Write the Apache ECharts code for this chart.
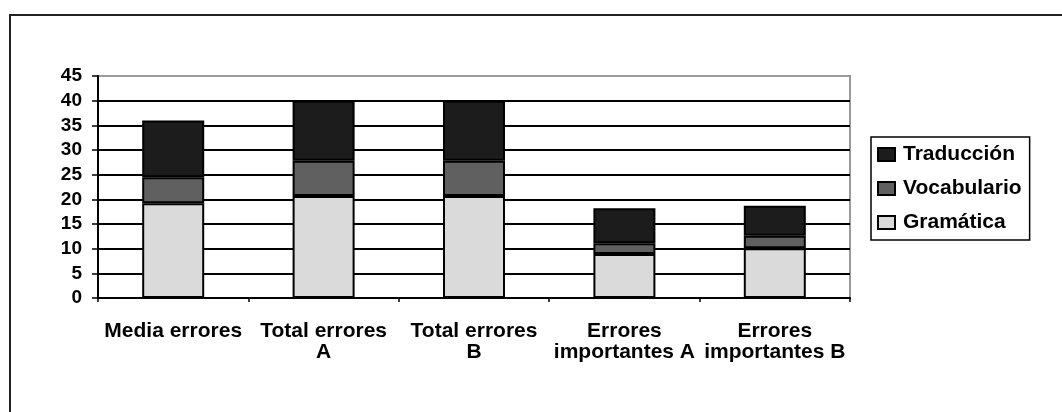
<!DOCTYPE html>
<html>
<head>
<meta charset="utf-8">
<script src="https://cdn.jsdelivr.net/npm/echarts@6/dist/echarts.min.js"></script>
<style>
  html, body { margin: 0; padding: 0; background: #fff; }
  #chart { width: 1062px; height: 412px; }
</style>
</head>
<body>
<div id="chart"></div>
<script>
// Error counts by type, stacked per category
const categories = [
  'Media errores',
  'Total errores\nA',
  'Total errores\nB',
  'Errores\nimportantes A',
  'Errores\nimportantes B'
];
const gramatica   = [19.2, 20.7, 20.7, 8.9, 10.1];
const vocabulario = [5.3, 7.1, 7.1, 2.2, 2.5];
const traduccion  = [11.5, 12.2, 12.2, 7.1, 6.1];
const yTicks = [0, 5, 10, 15, 20, 25, 30, 35, 40, 45];

const FONT = '"Liberation Sans", Arial, sans-serif';

// top gridline (45) is lighter, like the plot frame
const splitColors = yTicks.map(v => v === 45 ? '#9a9a9a' : '#000');

const chart = echarts.init(document.getElementById('chart'));

function barSeries(name, data, color) {
  return {
    name: name,
    type: 'bar',
    stack: 'total',
    data: data,
    barWidth: 62,
    itemStyle: { color: color, borderColor: '#000', borderWidth: 2 },
    emphasis: { disabled: true }
  };
}

chart.setOption({
  animation: false,
  backgroundColor: '#fff',
  textStyle: { fontFamily: FONT },
  grid: {
    left: 98, right: 212, top: 76, bottom: 114,
    show: true, borderColor: '#9a9a9a', borderWidth: 2
  },
  xAxis: {
    type: 'category',
    data: categories,
    axisLine: { lineStyle: { color: '#000', width: 2 } },
    axisTick: { show: true, length: 4, lineStyle: { color: '#000', width: 1.5 } },
    axisLabel: {
      color: '#000', fontFamily: FONT, fontWeight: 'bold',
      fontSize: 21, lineHeight: 21, margin: 23, interval: 0
    }
  },
  yAxis: {
    type: 'value',
    min: yTicks[0],
    max: yTicks[yTicks.length - 1],
    interval: 5,
    axisLine: { show: true, lineStyle: { color: '#000', width: 2 } },
    axisTick: { show: true, inside: false, length: 6, lineStyle: { color: '#000', width: 1.5 } },
    axisLabel: {
      color: '#000', fontFamily: FONT, fontWeight: 'bold',
      fontSize: 19, margin: 16
    },
    splitLine: { show: true, lineStyle: { color: splitColors, width: 2 } }
  },
  legend: {
    orient: 'vertical',
    left: 871,
    top: 137,
    data: ['Traducción', 'Vocabulario', 'Gramática'],
    icon: 'rect',
    itemWidth: 17,
    itemHeight: 13,
    itemGap: 13,
    padding: [7, 8, 7, 6],
    borderColor: '#000',
    borderWidth: 1.5,
    textStyle: {
      color: '#000', fontFamily: FONT, fontWeight: 'bold',
      fontSize: 21, lineHeight: 20, padding: [0, 0, 0, 3]
    },
    selectedMode: false
  },
  graphic: [
    { type: 'line', shape: { x1: 9, y1: 15, x2: 1062, y2: 15 }, style: { stroke: '#222', lineWidth: 2 } },
    { type: 'line', shape: { x1: 10, y1: 14, x2: 10, y2: 412 }, style: { stroke: '#222', lineWidth: 2 } }
  ],
  series: [
    barSeries('Gramática', gramatica, '#dadada'),
    barSeries('Vocabulario', vocabulario, '#606060'),
    barSeries('Traducción', traduccion, '#1c1c1c')
  ]
});
</script>
</body>
</html>
